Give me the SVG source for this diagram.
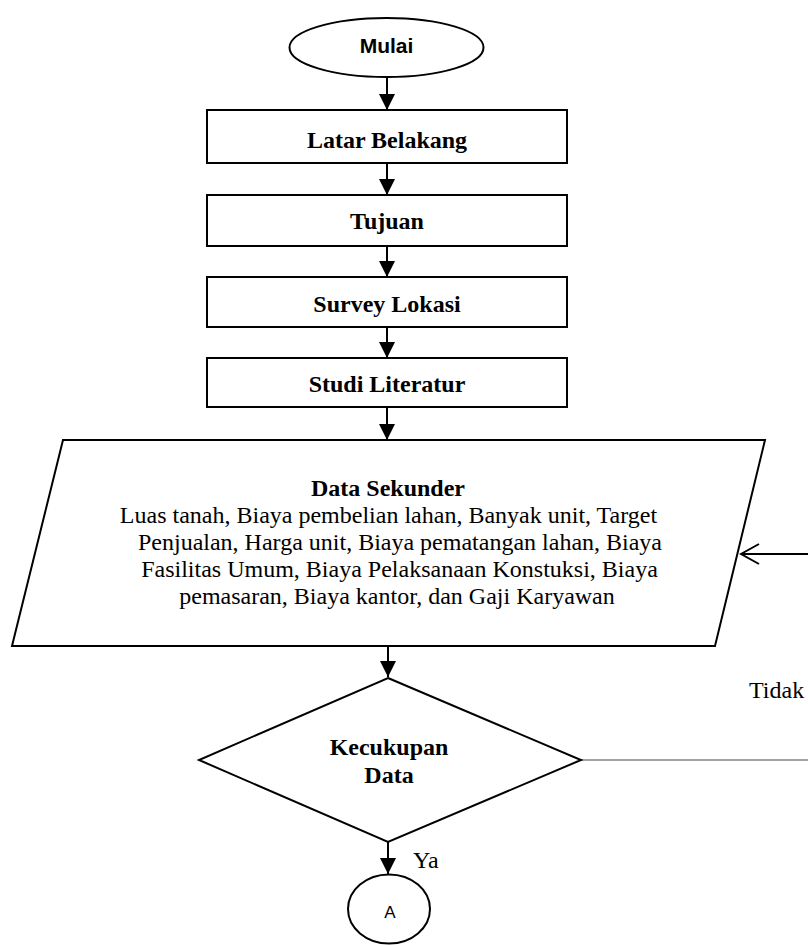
<svg xmlns="http://www.w3.org/2000/svg" width="808" height="945" viewBox="0 0 808 945">
<style>
.shape{fill:#fff;stroke:#000;stroke-width:2}
.lbl{font-family:"Liberation Serif","Times New Roman",serif;font-size:24px;fill:#000;text-anchor:middle}
.b{font-weight:bold}
.conn{stroke:#000;stroke-width:2;fill:none}
</style>
<defs>
<marker id="ah" markerUnits="userSpaceOnUse" markerWidth="16" markerHeight="18" refX="16" refY="8" orient="auto">
<path d="M0,0 L16,8 L0,16 Z" fill="#000"/>
</marker>
<marker id="open" markerUnits="userSpaceOnUse" markerWidth="22" markerHeight="24" refX="20" refY="11" orient="auto">
<path d="M2,1 L20,11 L2,21" fill="none" stroke="#000" stroke-width="2"/>
</marker>
</defs>
<g id="connectors">
<line class="conn" x1="387" y1="77" x2="387" y2="110" marker-end="url(#ah)"/>
<line class="conn" x1="387" y1="163" x2="387" y2="195" marker-end="url(#ah)"/>
<line class="conn" x1="387" y1="246" x2="387" y2="277" marker-end="url(#ah)"/>
<line class="conn" x1="387" y1="327" x2="387" y2="358" marker-end="url(#ah)"/>
<line class="conn" x1="387" y1="407" x2="387" y2="440" marker-end="url(#ah)"/>
<line class="conn" x1="388" y1="646" x2="388" y2="677" marker-end="url(#ah)"/>
<line class="conn" x1="388" y1="842" x2="388" y2="874" marker-end="url(#ah)"/>
<line x1="581" y1="760" x2="808" y2="760" stroke="#444" stroke-width="1.2"/>
<line class="conn" x1="808" y1="554" x2="741" y2="554" marker-end="url(#open)"/>
<text class="lbl" x="413" y="868" style="text-anchor:start">Ya</text>
<text class="lbl" x="749" y="698" style="text-anchor:start">Tidak</text>
</g>
<g id="mulai">
<ellipse class="shape" cx="386.5" cy="47.5" rx="97" ry="29.5"/>
<text x="386.5" y="53" style="font-family:'Liberation Sans',Arial,sans-serif;font-size:21px;font-weight:bold;text-anchor:middle">Mulai</text>
</g>
<g id="latar">
<rect class="shape" x="207" y="110" width="360" height="53"/>
<text class="lbl b" x="387" y="148">Latar Belakang</text>
</g>
<g id="tujuan">
<rect class="shape" x="207" y="195" width="360" height="51"/>
<text class="lbl b" x="387" y="229">Tujuan</text>
</g>
<g id="survey">
<rect class="shape" x="207" y="277" width="360" height="50"/>
<text class="lbl b" x="387" y="312">Survey Lokasi</text>
</g>
<g id="studi">
<rect class="shape" x="207" y="358" width="360" height="49"/>
<text class="lbl b" x="387" y="392">Studi Literatur</text>
</g>
<g id="data-sekunder">
<polygon class="shape" points="63,440 765,440 715,646 12,646"/>
<text class="lbl b" x="388" y="496">Data Sekunder</text>
<text class="lbl" x="388.5" y="523">Luas tanah, Biaya pembelian lahan, Banyak unit, Target</text>
<text class="lbl" x="400" y="550">Penjualan, Harga unit, Biaya pematangan lahan, Biaya</text>
<text class="lbl" x="399.5" y="577">Fasilitas Umum, Biaya Pelaksanaan Konstuksi, Biaya</text>
<text class="lbl" x="397" y="604">pemasaran, Biaya kantor, dan Gaji Karyawan</text>
</g>
<g id="kecukupan">
<polygon class="shape" points="388,678 581,760 388,842 199,760"/>
<text class="lbl b" x="389" y="755">Kecukupan</text>
<text class="lbl b" x="389" y="783">Data</text>
</g>
<g id="a">
<ellipse class="shape" cx="389" cy="909" rx="41" ry="34.5"/>
<text x="390" y="918" style="font-family:'Liberation Sans',Arial,sans-serif;font-size:17px;text-anchor:middle">A</text>
</g>
</svg>
